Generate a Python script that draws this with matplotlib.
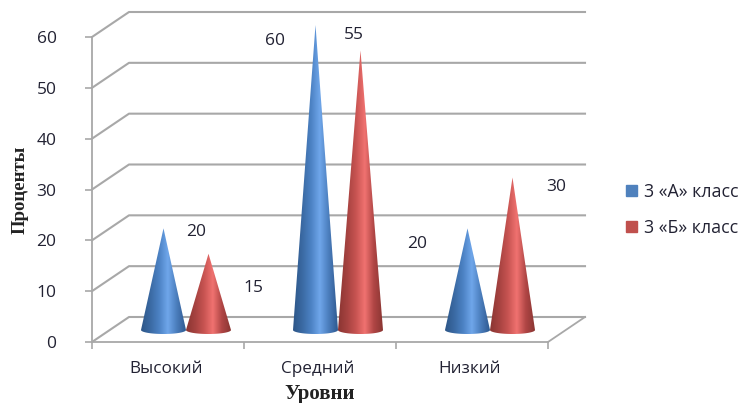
import numpy as np
import matplotlib
matplotlib.use('Agg')
import matplotlib.pyplot as plt
from matplotlib.colors import LinearSegmentedColormap
from matplotlib.patches import Patch, PathPatch
from matplotlib.path import Path

categories = ['Высокий', 'Средний', 'Низкий']
class_a = [20, 60, 20]
class_b = [15, 55, 30]
series_names = ['3 «А» класс', '3 «Б» класс']
y_ticks = [0, 10, 20, 30, 40, 50, 60]

plt.rcParams['font.family'] = ['Open Sans', 'DejaVu Sans']
TEXT = '#222233'
GRID = '#a8a8a8'

fig = plt.figure(figsize=(7.4, 4.03), dpi=100)
W, H = 740, 403
x0, x1, y_bot, y_top = 92, 548, 342, 37
ax = fig.add_axes([x0 / W, 1 - y_bot / H, (x1 - x0) / W, (y_bot - y_top) / H])
ax.set_xlim(0, len(categories))
ax.set_ylim(0, 60)

# pixel sizes converted to data units
px_x = len(categories) / (x1 - x0)
px_y = 60 / (y_bot - y_top)
depth_x, depth_y = 37 * px_x, 25 * px_y

for s in ['top', 'right']:
    ax.spines[s].set_visible(False)
for s in ['left', 'bottom']:
    ax.spines[s].set_color(GRID)
    ax.spines[s].set_linewidth(1.3)
ax.patch.set_alpha(0)
ax.set_yticks(y_ticks)
ax.set_xticks(range(len(categories) + 1))
ax.set_xticklabels([])
ax.tick_params(axis='both', color=GRID, width=1.2, length=5)
ax.tick_params(axis='y', labelsize=12.5, labelcolor=TEXT, pad=20.5)

# back wall and side wall lines
for v in y_ticks:
    ax.plot([0, depth_x, 3 + depth_x], [v, v + depth_y, v + depth_y],
            color=GRID, lw=1.5, clip_on=False, zorder=1)
ax.plot([3, 3 + depth_x], [0, depth_y], color=GRID, lw=1.3, clip_on=False, zorder=1)

blue_map = LinearSegmentedColormap.from_list('b', ['#2d5688', '#3a69a2', '#4c82c4', '#6fa6ea', '#4a7dbc', '#2f5a90'])
red_map = LinearSegmentedColormap.from_list('r', ['#8a3532', '#a54240', '#c85452', '#f07270', '#b04645', '#8a3532'])


def cone(xc, value, cmap):
    half = 22.5 * px_x
    base = 12 * px_y
    drop = 4 * px_y
    tip = value + base
    t = np.linspace(np.pi, 2 * np.pi, 40)
    xs = np.r_[xc, xc + half * np.cos(t)]
    ys = np.r_[tip, base + drop * np.sin(t)]
    patch = PathPatch(Path(np.c_[xs, ys]), fc='none', ec='none', transform=ax.transData)
    ax.add_patch(patch)
    grad = np.linspace(0, 1, 128).reshape(1, -1)
    im = ax.imshow(grad, cmap=cmap, extent=[xc - half, xc + half, 0, tip], aspect='auto', zorder=3)
    im.set_clip_box(fig.bbox)
    im.set_clip_path(patch)
    return tip


offsets_a = [(33, -4), (-40, -16), (-50, -16)]
offsets_b = [(45, -34), (-7, 15), (44, -9)]
shift = 18 * px_x
gap = 22.5 * px_x

for i, cat in enumerate(categories):
    center = i + 0.5 + shift
    tip_a = cone(center - gap, class_a[i], blue_map)
    tip_b = cone(center + gap, class_b[i], red_map)
    ax.annotate(str(class_a[i]), (center - gap, tip_a), xytext=offsets_a[i], textcoords='offset pixels',
                ha='center', va='center', fontsize=12.5, color=TEXT, annotation_clip=False, zorder=5)
    ax.annotate(str(class_b[i]), (center + gap, tip_b), xytext=offsets_b[i], textcoords='offset pixels',
                ha='center', va='center', fontsize=12.5, color=TEXT, annotation_clip=False, zorder=5)
    ax.text(i + 0.5 - 2 * px_x, -27 * px_y, cat, ha='center', va='center', fontsize=12.3, color=TEXT)

ax.set_xlim(0, len(categories))
ax.set_ylim(0, 60)

fig.text(320 / W, 1 - 394 / H, 'Уровни', family='Liberation Serif', weight='bold',
         fontsize=15, color='#222222', ha='center', va='center')
fig.text(20 / W, 1 - 190 / H, 'Проценты', family='Liberation Serif', weight='bold',
         fontsize=13.5, color='#222222', rotation=90, ha='center', va='center')

handles = [Patch(color='#4f81bd', label=series_names[0]), Patch(color='#c0504d', label=series_names[1])]
fig.legend(handles=handles, loc='center left', bbox_to_anchor=(626 / W, 1 - 210 / H), frameon=False,
           fontsize=12.8, labelcolor=TEXT, handlelength=0.6, handleheight=0.6, handletextpad=0.4,
           labelspacing=1.0, borderpad=0, borderaxespad=0)

fig.savefig('out.png', dpi=100)
